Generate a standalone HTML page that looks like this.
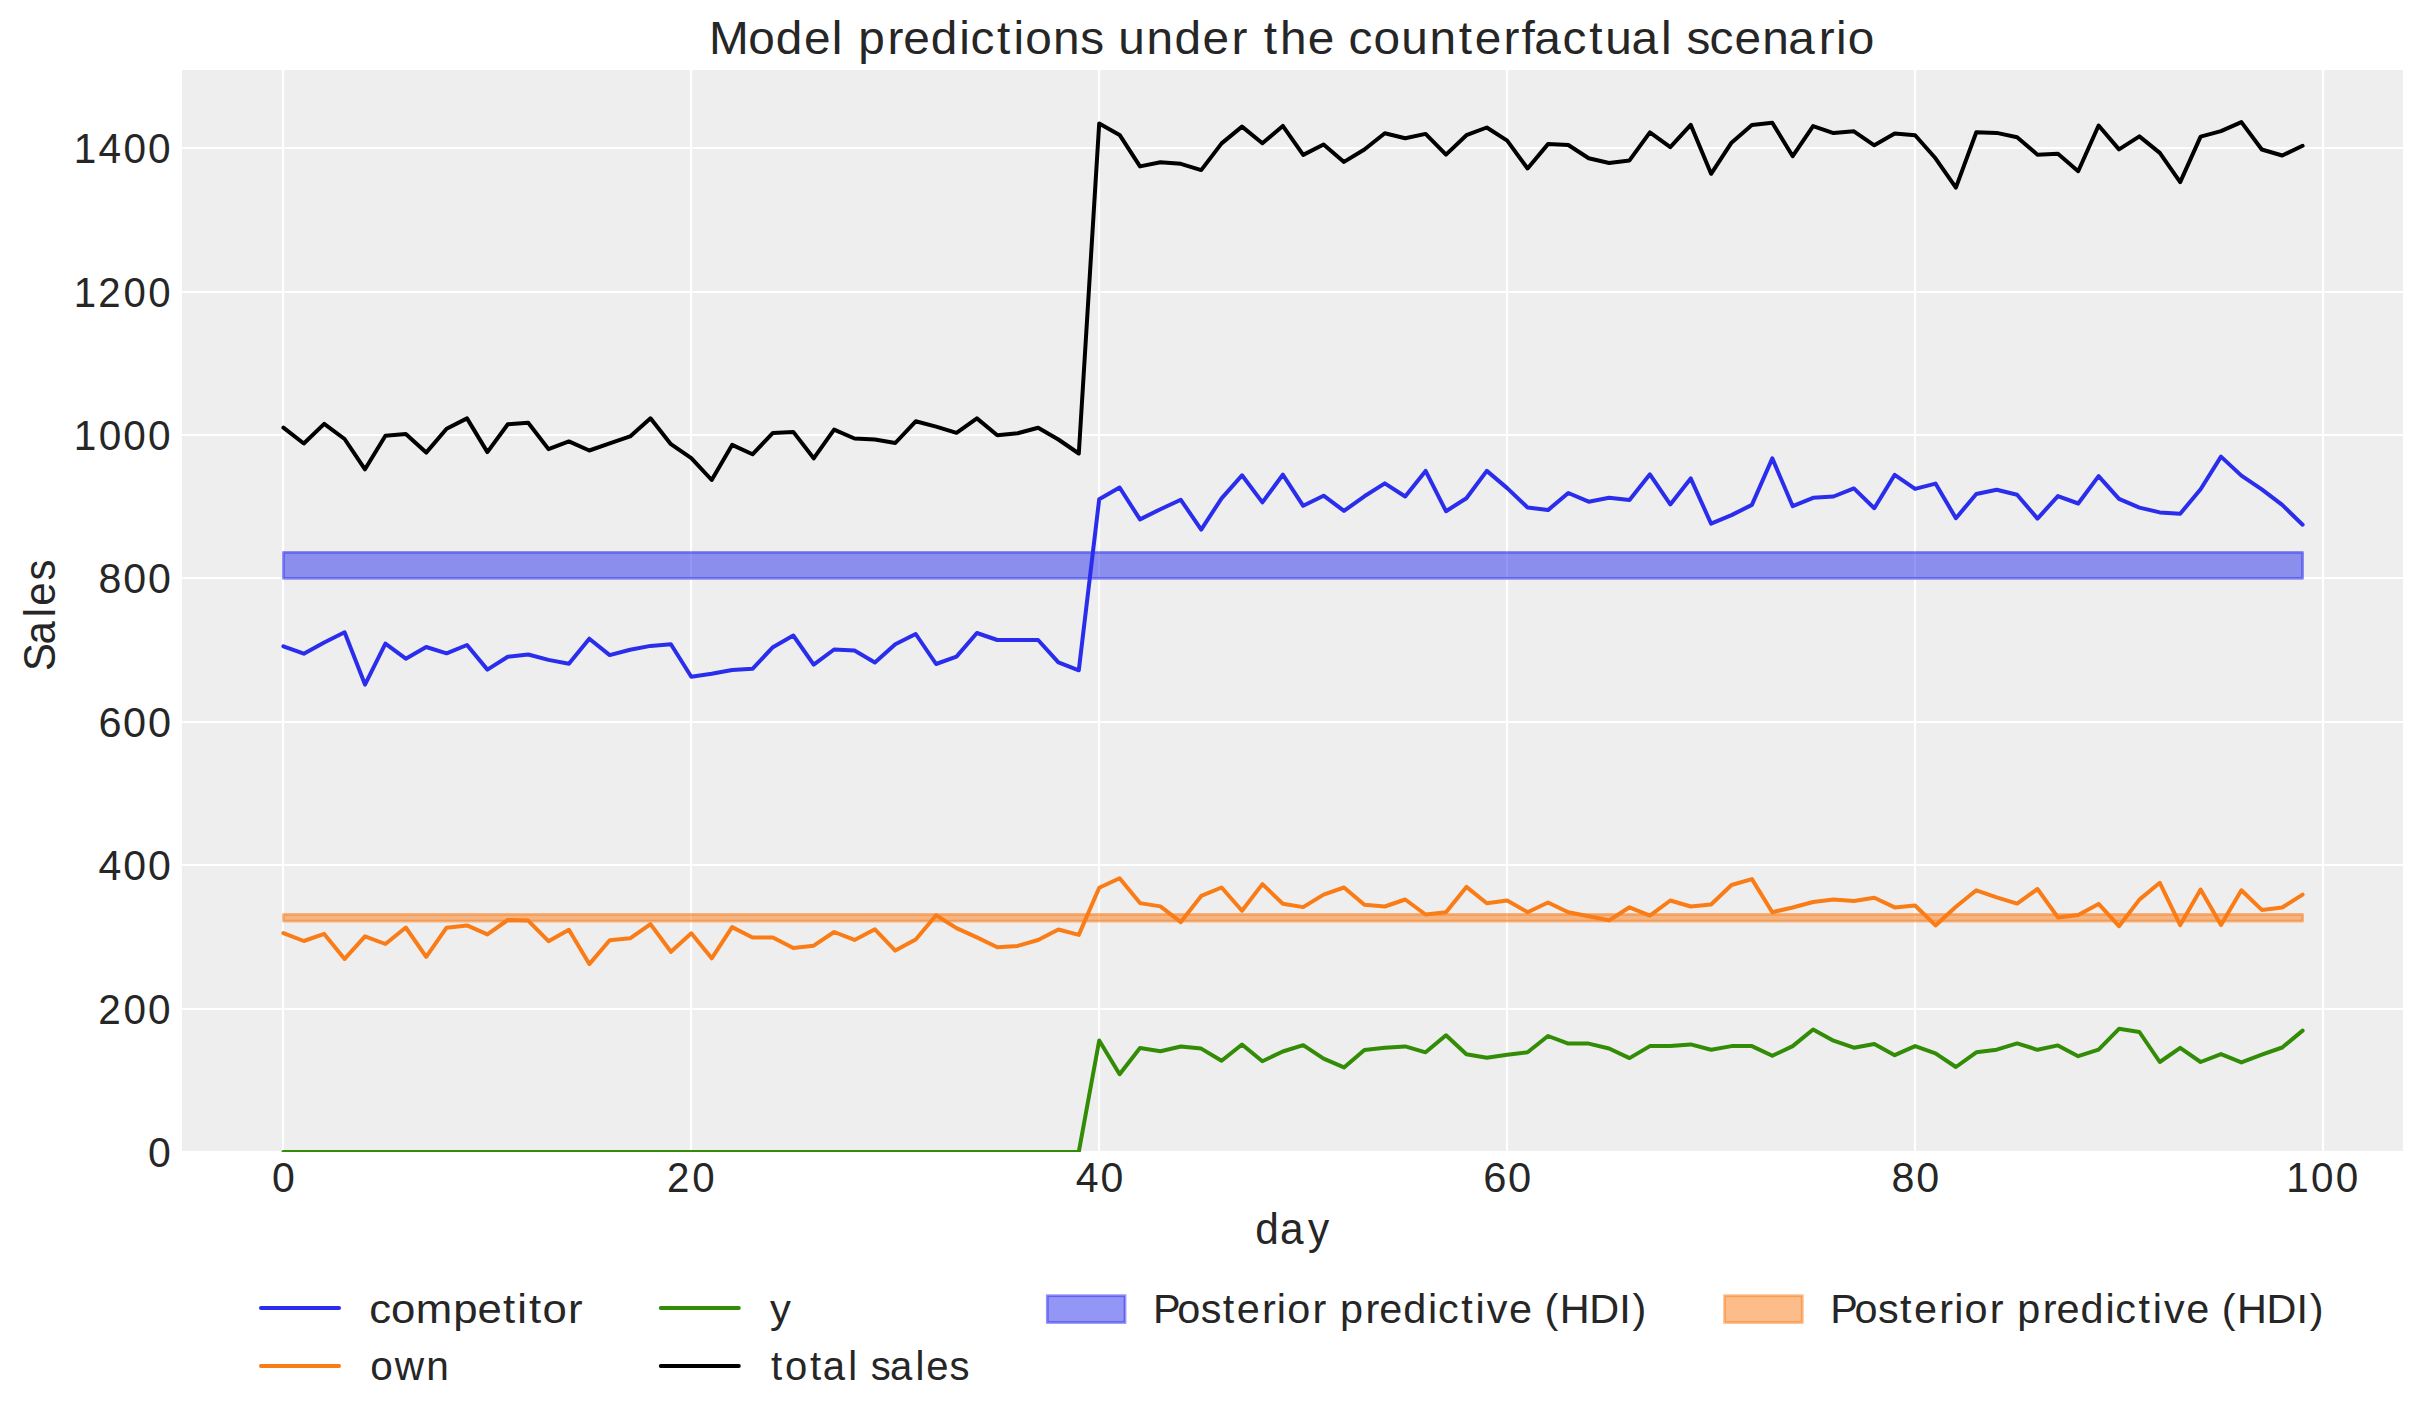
<!DOCTYPE html>
<html><head><meta charset="utf-8"><title>Model predictions under the counterfactual scenario</title>
<style>html,body{margin:0;padding:0;background:#fff;width:2423px;height:1423px;overflow:hidden}
svg text{font-family:'Liberation Sans',sans-serif;}</style></head>
<body><svg width="2423" height="1423" viewBox="0 0 2423 1423" style="display:block;font-family:'Liberation Sans',sans-serif;"><defs><clipPath id="axclip"><rect x="182.0" y="70.0" width="2221.0" height="1082.0"/></clipPath></defs><rect x="0" y="0" width="2423" height="1423" fill="#ffffff"/><rect x="182.0" y="70.0" width="2221.0" height="1081.0" fill="#eeeeee"/><path d="M283 70.0V1151.0M691 70.0V1151.0M1099 70.0V1151.0M1507 70.0V1151.0M1915 70.0V1151.0M2323 70.0V1151.0M182.0 148H2403.0M182.0 292H2403.0M182.0 435H2403.0M182.0 578H2403.0M182.0 722H2403.0M182.0 865H2403.0M182.0 1009H2403.0" stroke="#ffffff" stroke-width="2.2" fill="none"/><g clip-path="url(#axclip)"><rect x="283.4" y="552.3" width="2019.2" height="26.1" fill="#2a2eec" fill-opacity="0.5" stroke="#2a2eec" stroke-opacity="0.5" stroke-width="2.78" stroke-linejoin="round"/><rect x="283.4" y="914.4" width="2019.2" height="6.8" fill="#fa7c17" fill-opacity="0.5" stroke="#fa7c17" stroke-opacity="0.5" stroke-width="2.78" stroke-linejoin="round"/><polyline points="283.4,646.3 303.8,653.7 324.2,642.5 344.6,632.3 365.0,684.6 385.4,643.6 405.8,658.7 426.2,647.0 446.6,653.3 467.0,645.0 487.4,669.6 507.8,656.8 528.2,654.5 548.5,659.9 568.9,663.8 589.3,638.7 609.7,655.1 630.1,649.7 650.5,645.9 670.9,644.3 691.3,676.8 711.7,673.8 732.1,670.0 752.5,668.8 772.9,647.2 793.3,635.5 813.7,664.6 834.1,649.5 854.5,650.6 874.9,662.4 895.3,644.2 915.7,634.0 936.1,664.0 956.5,656.6 976.9,633.0 997.3,640.0 1017.7,640.0 1038.1,640.0 1058.4,662.4 1078.8,670.3 1099.2,499.3 1119.6,487.5 1140.0,519.4 1160.4,509.2 1180.8,499.8 1201.2,529.6 1221.6,498.3 1242.0,475.3 1262.4,502.4 1282.8,474.7 1303.2,505.8 1323.6,495.7 1344.0,510.9 1364.4,496.3 1384.8,483.4 1405.2,496.5 1425.6,470.9 1446.0,511.2 1466.4,498.3 1486.8,470.9 1507.2,488.1 1527.6,507.5 1548.0,510.1 1568.3,493.0 1588.7,501.7 1609.1,497.7 1629.5,499.9 1649.9,474.3 1670.3,504.4 1690.7,478.4 1711.1,523.7 1731.5,515.1 1751.9,504.9 1772.3,458.4 1792.7,506.2 1813.1,497.8 1833.5,496.5 1853.9,488.4 1874.3,508.2 1894.7,474.8 1915.1,488.9 1935.5,483.6 1955.9,518.2 1976.3,494.0 1996.7,489.7 2017.1,494.7 2037.5,518.6 2057.9,496.1 2078.2,503.5 2098.6,476.1 2119.0,498.8 2139.4,507.6 2159.8,512.4 2180.2,513.7 2200.6,489.3 2221.0,456.6 2241.4,475.6 2261.8,489.3 2282.2,504.9 2302.6,524.7" fill="none" stroke="#2a2eec" stroke-width="4.0" stroke-linejoin="round" stroke-linecap="round"/><polyline points="283.4,933.1 303.8,941.0 324.2,933.9 344.6,958.9 365.0,936.3 385.4,944.0 405.8,927.5 426.2,956.9 446.6,927.7 467.0,925.4 487.4,934.4 507.8,920.0 528.2,920.6 548.5,941.2 568.9,929.8 589.3,964.1 609.7,940.2 630.1,938.3 650.5,924.1 670.9,951.8 691.3,933.3 711.7,958.3 732.1,927.1 752.5,937.5 772.9,937.5 793.3,948.0 813.7,945.7 834.1,932.0 854.5,939.9 874.9,929.3 895.3,950.6 915.7,939.5 936.1,915.2 956.5,928.1 976.9,937.4 997.3,947.2 1017.7,945.9 1038.1,940.0 1058.4,929.5 1078.8,934.9 1099.2,887.7 1119.6,878.3 1140.0,903.1 1160.4,906.4 1180.8,922.1 1201.2,895.9 1221.6,887.5 1242.0,910.8 1262.4,884.1 1282.8,903.7 1303.2,907.1 1323.6,894.6 1344.0,887.5 1364.4,904.8 1384.8,906.5 1405.2,899.5 1425.6,914.5 1446.0,912.3 1466.4,886.9 1486.8,903.3 1507.2,900.5 1527.6,912.2 1548.0,902.5 1568.3,912.3 1588.7,916.3 1609.1,920.4 1629.5,907.3 1649.9,915.6 1670.3,900.5 1690.7,906.5 1711.1,904.5 1731.5,885.0 1751.9,879.1 1772.3,912.2 1792.7,907.5 1813.1,902.0 1833.5,899.4 1853.9,901.0 1874.3,897.8 1894.7,907.4 1915.1,905.5 1935.5,925.4 1955.9,906.8 1976.3,890.3 1996.7,897.3 2017.1,903.6 2037.5,889.0 2057.9,917.4 2078.2,915.0 2098.6,903.9 2119.0,926.2 2139.4,899.6 2159.8,882.8 2180.2,925.1 2200.6,889.6 2221.0,925.1 2241.4,890.3 2261.8,909.9 2282.2,907.5 2302.6,894.6" fill="none" stroke="#fa7c17" stroke-width="4.0" stroke-linejoin="round" stroke-linecap="round"/><polyline points="283.4,1151.9 303.8,1151.9 324.2,1151.9 344.6,1151.9 365.0,1151.9 385.4,1151.9 405.8,1151.9 426.2,1151.9 446.6,1151.9 467.0,1151.9 487.4,1151.9 507.8,1151.9 528.2,1151.9 548.5,1151.9 568.9,1151.9 589.3,1151.9 609.7,1151.9 630.1,1151.9 650.5,1151.9 670.9,1151.9 691.3,1151.9 711.7,1151.9 732.1,1151.9 752.5,1151.9 772.9,1151.9 793.3,1151.9 813.7,1151.9 834.1,1151.9 854.5,1151.9 874.9,1151.9 895.3,1151.9 915.7,1151.9 936.1,1151.9 956.5,1151.9 976.9,1151.9 997.3,1151.9 1017.7,1151.9 1038.1,1151.9 1058.4,1151.9 1078.8,1151.9 1099.2,1040.5 1119.6,1074.2 1140.0,1048.0 1160.4,1051.2 1180.8,1046.5 1201.2,1048.6 1221.6,1060.8 1242.0,1044.5 1262.4,1061.2 1282.8,1051.5 1303.2,1045.2 1323.6,1058.7 1344.0,1067.4 1364.4,1050.0 1384.8,1047.7 1405.2,1046.4 1425.6,1052.3 1446.0,1035.3 1466.4,1054.3 1486.8,1057.8 1507.2,1054.7 1527.6,1052.3 1548.0,1036.0 1568.3,1043.6 1588.7,1043.6 1609.1,1048.5 1629.5,1058.1 1649.9,1046.1 1670.3,1046.1 1690.7,1044.4 1711.1,1049.7 1731.5,1046.1 1751.9,1046.1 1772.3,1055.8 1792.7,1046.1 1813.1,1029.5 1833.5,1040.7 1853.9,1047.7 1874.3,1044.0 1894.7,1055.2 1915.1,1046.1 1935.5,1053.3 1955.9,1067.0 1976.3,1052.3 1996.7,1049.7 2017.1,1043.4 2037.5,1049.8 2057.9,1045.4 2078.2,1056.2 2098.6,1049.7 2119.0,1028.8 2139.4,1032.0 2159.8,1062.0 2180.2,1047.9 2200.6,1062.0 2221.0,1054.1 2241.4,1062.4 2261.8,1054.7 2282.2,1047.5 2302.6,1030.6" fill="none" stroke="#328c06" stroke-width="4.0" stroke-linejoin="round" stroke-linecap="round"/><polyline points="283.4,427.7 303.8,443.5 324.2,423.9 344.6,439.0 365.0,469.3 385.4,435.7 405.8,434.0 426.2,452.6 446.6,428.8 467.0,418.4 487.4,452.1 507.8,424.3 528.2,422.7 548.5,449.1 568.9,441.4 589.3,450.5 609.7,443.3 630.1,436.4 650.5,418.3 670.9,444.2 691.3,458.1 711.7,480.0 732.1,444.9 752.5,454.3 772.9,432.9 793.3,431.9 813.7,458.3 834.1,429.6 854.5,438.5 874.9,439.5 895.3,443.0 915.7,421.3 936.1,426.6 956.5,432.8 976.9,418.4 997.3,435.2 1017.7,433.3 1038.1,427.7 1058.4,439.5 1078.8,453.5 1099.2,123.4 1119.6,134.9 1140.0,166.4 1160.4,162.2 1180.8,163.8 1201.2,170.1 1221.6,143.4 1242.0,126.6 1262.4,143.3 1282.8,125.9 1303.2,154.9 1323.6,144.5 1344.0,161.9 1364.4,149.5 1384.8,133.2 1405.2,138.3 1425.6,133.9 1446.0,154.6 1466.4,135.2 1486.8,127.5 1507.2,140.6 1527.6,168.5 1548.0,144.1 1568.3,145.0 1588.7,158.3 1609.1,163.0 1629.5,160.4 1649.9,132.3 1670.3,147.1 1690.7,124.8 1711.1,173.8 1731.5,142.7 1751.9,125.0 1772.3,122.7 1792.7,156.2 1813.1,126.1 1833.5,133.1 1853.9,131.3 1874.3,145.3 1894.7,133.6 1915.1,135.2 1935.5,158.3 1955.9,187.6 1976.3,132.3 1996.7,132.9 2017.1,137.2 2037.5,154.7 2057.9,153.7 2078.2,171.2 2098.6,125.5 2119.0,149.4 2139.4,136.4 2159.8,152.9 2180.2,182.1 2200.6,136.6 2221.0,131.1 2241.4,122.1 2261.8,149.5 2282.2,155.5 2302.6,145.8" fill="none" stroke="#000000" stroke-width="4.0" stroke-linejoin="round" stroke-linecap="round"/></g><text transform="translate(0 163.00) scale(0.9661 1)" x="76.27 102.09 127.71 153.32" y="0" font-size="42.00" fill="#262626">1400</text><text transform="translate(0 307.00) scale(0.9571 1)" x="77.11 102.63 129.02 154.87" y="0" font-size="42.00" fill="#262626">1200</text><text transform="translate(0 450.00) scale(0.9659 1)" x="76.29 102.12 127.73 153.35" y="0" font-size="42.00" fill="#262626">1000</text><text transform="translate(0 593.00) scale(0.9795 1)" x="100.53 125.79 151.05" y="0" font-size="42.00" fill="#262626">800</text><text transform="translate(0 737.00) scale(0.9872 1)" x="99.67 124.73 149.80" y="0" font-size="42.00" fill="#262626">600</text><text transform="translate(0 880.00) scale(0.9761 1)" x="100.93 126.28 151.63" y="0" font-size="42.00" fill="#262626">400</text><text transform="translate(0 1024.00) scale(0.9647 1)" x="101.73 127.91 153.56" y="0" font-size="42.00" fill="#262626">200</text><text transform="translate(0 1167.00) scale(0.9761 1)" x="151.63" y="0" font-size="42.00" fill="#262626">0</text><text transform="translate(0 1191.80) scale(0.9761 1)" x="278.57" y="0" font-size="42.00" fill="#262626">0</text><text transform="translate(0 1191.80) scale(0.9589 1)" x="695.70 722.04" y="0" font-size="42.00" fill="#262626">20</text><text transform="translate(0 1191.80) scale(0.9761 1)" x="1102.19 1127.54" y="0" font-size="42.00" fill="#262626">40</text><text transform="translate(0 1191.80) scale(0.9928 1)" x="1493.98 1518.91" y="0" font-size="42.00" fill="#262626">60</text><text transform="translate(0 1191.80) scale(0.9813 1)" x="1927.49 1952.71" y="0" font-size="42.00" fill="#262626">80</text><text transform="translate(0 1191.80) scale(0.9624 1)" x="2375.51 2401.43 2427.14" y="0" font-size="42.00" fill="#262626">100</text><text transform="translate(0 54.10) scale(1.0138 1)" x="699.33 738.17 765.23 792.98 820.33 831.65 846.67 875.40 890.93 917.99 946.13 957.18 983.47 999.61 1011.23 1038.62 1065.47 1088.36 1102.99 1130.97 1158.43 1186.17 1214.65 1230.69 1246.55 1262.63 1290.07 1316.57 1330.25 1354.93 1382.13 1410.10 1438.93 1454.67 1483.15 1500.91 1513.28 1541.23 1567.52 1583.48 1609.22 1638.29 1649.61 1663.50 1686.13 1710.97 1738.35 1763.91 1794.10 1811.02 1822.64" y="0" font-size="47.11" fill="#262626">Model predictions under the counterfactual scenario</text><text transform="translate(0 1243.60) scale(0.9589 1)" x="1309.18 1334.96 1363.97" y="0" font-size="44.17" fill="#262626">day</text><text transform="translate(54.9 614.65) rotate(-90) translate(0 0.00) scale(0.9500 1)" x="-59.32 -31.36 -2.84 9.46 35.83" y="0" font-size="44.17" fill="#262626">Sales</text><path d="M261.0 1307.9H339.0" stroke="#2a2eec" stroke-width="4.0" stroke-linecap="round"/><path d="M261.0 1365.9H339.0" stroke="#fa7c17" stroke-width="4.0" stroke-linecap="round"/><path d="M660.8 1307.9H738.8" stroke="#328c06" stroke-width="4.0" stroke-linecap="round"/><path d="M660.8 1365.9H738.8" stroke="#000000" stroke-width="4.0" stroke-linecap="round"/><text transform="translate(0 1322.60) scale(1.0612 1)" x="347.84 368.43 391.87 427.16 449.94 473.95 487.50 498.50 511.27 535.25" y="0" font-size="41.22" fill="#262626">competitor</text><text transform="translate(0 1379.50) scale(0.9845 1)" x="376.09 400.87 433.07" y="0" font-size="41.22" fill="#262626">own</text><text transform="translate(0 1322.60) scale(1.0131 1)" x="760.04" y="0" font-size="41.22" fill="#262626">y</text><text transform="translate(0 1379.50) scale(0.9711 1)" x="793.98 808.46 834.18 847.18 873.39 883.53 896.67 916.44 942.65 953.73 977.83" y="0" font-size="41.22" fill="#262626">total sales</text><rect x="1047.3" y="1295.7" width="77.7" height="26.8" fill="#2a2eec" fill-opacity="0.5" stroke="#2a2eec" stroke-opacity="0.5" stroke-width="2.78"/><rect x="1724.6" y="1295.7" width="77.7" height="26.8" fill="#fa7c17" fill-opacity="0.5" stroke="#fa7c17" stroke-opacity="0.5" stroke-width="2.78"/><text transform="translate(0 1322.60) scale(1.0039 1)" x="1148.46 1172.66 1196.02 1217.91 1231.86 1257.00 1271.91 1282.25 1307.38 1321.48 1334.86 1360.21 1373.84 1397.75 1422.56 1432.38 1455.56 1469.81 1480.90 1503.20 1526.50 1538.47 1553.60 1583.14 1612.87 1626.05" y="0" font-size="41.22" fill="#262626">Posterior predictive (HDI)</text><text transform="translate(0 1322.60) scale(1.0039 1)" x="1823.13 1847.32 1870.69 1892.57 1906.53 1931.66 1946.58 1956.92 1982.05 1996.15 2009.53 2034.88 2048.51 2072.42 2097.22 2107.04 2130.23 2144.47 2155.57 2177.87 2201.17 2213.13 2228.27 2257.81 2287.54 2300.72" y="0" font-size="41.22" fill="#262626">Posterior predictive (HDI)</text></svg></body></html>
